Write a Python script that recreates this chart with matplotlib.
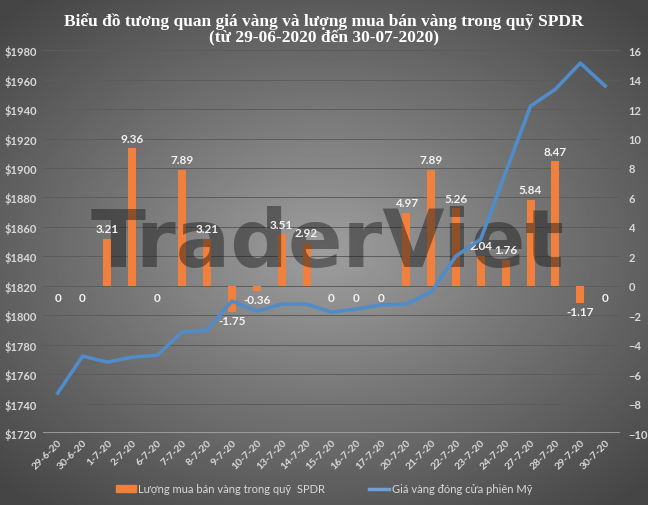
import numpy as np
import matplotlib
matplotlib.use("Agg")
import matplotlib.pyplot as plt
from matplotlib.patches import Patch
from matplotlib.lines import Line2D

dates = ["29-6-20", "30-6-20", "1-7-20", "2-7-20", "6-7-20", "7-7-20", "8-7-20",
         "9-7-20", "10-7-20", "13-7-20", "14-7-20", "15-7-20", "16-7-20", "17-7-20",
         "20-7-20", "21-7-20", "22-7-20", "23-7-20", "24-7-20", "27-7-20", "28-7-20",
         "29-7-20", "30-7-20"]
spdr_flow = [0, 0, 3.21, 9.36, 0, 7.89, 3.21, -1.75, -0.36, 3.51, 2.92, 0, 0, 0,
             4.97, 7.89, 5.26, 2.04, 1.76, 5.84, 8.47, -1.17, 0]
gold_close = [1747.2, 1772.3, 1768.2, 1771.6, 1772.9, 1788.6, 1789.9, 1809.6, 1802.8,
              1807.6, 1807.6, 1802.1, 1804.2, 1807.1, 1807.6, 1815.7, 1840.1, 1851.7,
              1897.2, 1942.0, 1953.5, 1971.2, 1955.6]

plt.rcParams["font.family"] = ["Lato", "DejaVu Sans"]

fig = plt.figure(figsize=(6.48, 5.06), dpi=100)

# dark radial background
bg = fig.add_axes([0, 0, 1, 1], zorder=-10)
yy, xx = np.mgrid[-1:1:300j, -1:1:400j]
r = np.sqrt((xx / 1.1) ** 2 + (yy / 1.0) ** 2)
bg.imshow(np.clip(r, 0, 1.3), cmap="gray_r", vmin=-1.4, vmax=2.3, aspect="auto",
          extent=[0, 1, 0, 1])
bg.axis("off")

ax = fig.add_axes([0.066, 0.142, 0.891, 0.757])
ax.patch.set_alpha(0)
x = np.arange(len(dates))

ax.bar(x, spdr_flow, width=0.32, color="#f0803c", zorder=3)
ax.set_ylim(-10, 16)
ax.set_yticks(np.arange(-10, 17, 2))
ax.set_xlim(-0.6, len(dates) - 0.4)
for v in np.arange(-8, 17, 2):
    ax.axhline(v, color="#5c5c5c", lw=0.7, zorder=1)
ax.axhline(-10, color="#a6a6a6", lw=1.2, zorder=2)

# watermark, above the bars but under the price line
ax.text(0.505, 0.515, "TraderViet", transform=fig.transFigure, ha="center", va="center",
        fontsize=58, fontweight="bold", family="DejaVu Sans",
        color="#161616", alpha=0.45, zorder=4)

for xi, v in zip(x, spdr_flow):
    if v > 0:
        ax.text(xi, v + 0.3, f"{v:.2f}", ha="center", va="bottom", color="#f2f2f2",
                fontsize=8.5, fontweight="bold", zorder=6)
    elif v < 0:
        ax.text(xi, v - 0.2, f"{v:.2f}", ha="center", va="top", color="#f2f2f2",
                fontsize=8.5, fontweight="bold", zorder=6)
    else:
        ax.text(xi, -0.4, "0", ha="center", va="top", color="#f2f2f2",
                fontsize=8.5, fontweight="bold", zorder=6)

ax2 = ax.twinx()
ax2.plot(x, gold_close, color="#4f8cc9", lw=2.6, zorder=5)
ax2.set_ylim(1720, 1980)
ax2.set_yticks(np.arange(1720, 1981, 20))
ax2.set_yticklabels([f"${v}" for v in range(1720, 1981, 20)])
ax2.yaxis.tick_left()
ax.yaxis.tick_right()

for a in (ax, ax2):
    for s in a.spines.values():
        s.set_visible(False)
    a.tick_params(length=0, colors="#d9d9d9", labelsize=8)
    for lab in a.get_yticklabels():
        lab.set_fontweight("bold")
ax.tick_params(axis="y", pad=6)
ax2.tick_params(axis="y", pad=4)

ax.set_xticks(x)
ax.set_xticklabels(dates, rotation=45, ha="right", rotation_mode="anchor",
                   fontsize=7.5, fontweight="bold")
ax.tick_params(axis="x", pad=3)

fig.text(0.5, 0.975, "Biểu đồ tương quan giá vàng và lượng mua bán vàng trong quỹ SPDR\n"
         "(từ 29-06-2020 đến 30-07-2020)", ha="center", va="top", color="white",
         fontsize=12.5, fontweight="bold", family="Liberation Serif", linespacing=1.1)

handles = [Patch(color="#f0803c"), Line2D([0], [0], color="#6f9fd6", lw=2.5)]
leg = fig.legend(handles, ["Lượng mua bán vàng trong quỹ  SPDR", "Giá vàng đóng cửa phiên Mỹ"],
                 loc="center", bbox_to_anchor=(0.5, 0.032), ncol=2, frameon=False,
                 fontsize=8, labelcolor="#d9d9d9", handlelength=1.8, handleheight=0.5,
                 columnspacing=4, handletextpad=0.2)

fig.savefig("out.png", dpi=100)
